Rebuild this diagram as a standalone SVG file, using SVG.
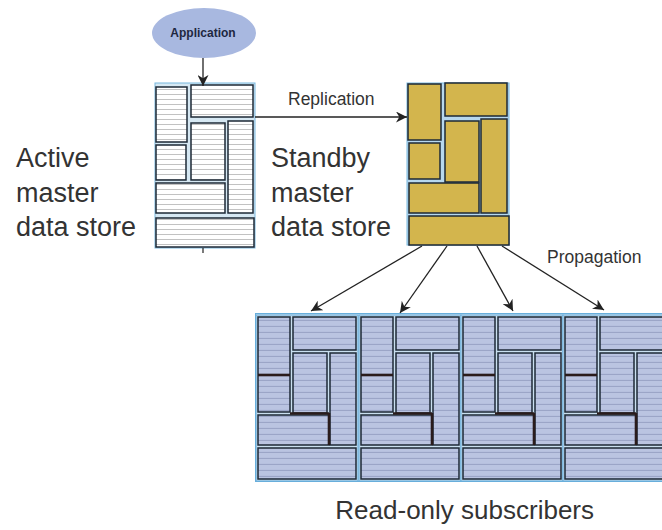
<svg xmlns="http://www.w3.org/2000/svg" xmlns:xlink="http://www.w3.org/1999/xlink" width="662" height="530" viewBox="0 0 662 530">
<style>
.lbl{font-family:"Liberation Sans",Arial,sans-serif;fill:#333;}
.big{font-size:27px;}
.mid{font-size:17.5px;}
.blk{stroke:#1d2836;stroke-width:1.5;}
.wb{fill:url(#ws);}
.gb{fill:#d3b54d;}
.bb{fill:url(#bs);}
.conn{stroke:#222;stroke-width:1.3;fill:none;marker-end:url(#ah);}
.thick{stroke:#2a1c1c;stroke-width:2.6;}
</style>
<defs>
<pattern id="ws" width="10" height="5" patternUnits="userSpaceOnUse">
<rect width="10" height="5" fill="#ffffff"/>
<line x1="0" y1="4.5" x2="10" y2="4.5" stroke="#b3b3b3" stroke-width="0.8"/>
</pattern>
<pattern id="bs" width="10" height="6" patternUnits="userSpaceOnUse">
<rect width="10" height="6" fill="#bac4e1"/>
<line x1="0" y1="5.4" x2="10" y2="5.4" stroke="#97a2c4" stroke-width="1"/>
</pattern>
<marker id="ah" viewBox="0 0 10 10" refX="10" refY="5" markerWidth="11" markerHeight="11" markerUnits="userSpaceOnUse" orient="auto">
<path d="M0,0 L10,5 L0,10 L3,5 z" fill="#222"/>
</marker>
<g id="subShape">
<rect x="-1" y="0" width="102" height="166" fill="#c9dfef" stroke="#68aedb" stroke-width="1"/>
<rect class="blk bb" x="1" y="2" width="32" height="95"/>
<rect class="blk bb" x="36" y="2" width="63" height="33"/>
<rect class="blk bb" x="36" y="38" width="34" height="60"/>
<rect class="blk bb" x="73" y="38" width="26" height="92"/>
<rect class="blk bb" x="1" y="100" width="71" height="30"/>
<rect class="blk bb" x="1" y="133" width="98" height="31"/>
<line class="thick" x1="1" y1="60" x2="33" y2="60"/>
<line class="thick" x1="33" y1="98.5" x2="72" y2="98.5"/>
<line class="thick" x1="72" y1="98" x2="72" y2="130"/>
</g>
</defs>
<rect width="662" height="530" fill="#ffffff"/>

<g id="application">
<ellipse cx="204" cy="33" rx="52" ry="25" fill="#a8b8e0"/>
<text x="203" y="37" text-anchor="middle" style="font-family:'Liberation Sans',Arial,sans-serif;font-size:12px;font-weight:bold;fill:#1e2740;">Application</text>
</g>

<g id="active-master">
<rect x="155" y="83" width="100" height="165" fill="#d6e8f3" stroke="#78b7de" stroke-width="1"/>
<rect class="blk wb" x="156" y="87" width="31" height="55"/>
<rect class="blk wb" x="191" y="85" width="62" height="32"/>
<rect class="blk wb" x="156" y="145" width="30" height="35"/>
<rect class="blk wb" x="191" y="123" width="34" height="57"/>
<rect class="blk wb" x="228" y="121" width="25" height="92"/>
<rect class="blk wb" x="156" y="183" width="69" height="30"/>
<rect class="blk wb" x="156" y="218" width="98" height="29"/>
<text class="lbl big" x="16" y="167">Active</text>
<text class="lbl big" x="16" y="202">master</text>
<text class="lbl big" x="16" y="236">data store</text>
</g>

<g id="standby-master">
<rect x="407" y="83" width="102" height="162" fill="#b7d8ee" stroke="#78b7de" stroke-width="1"/>
<rect class="blk gb" x="408" y="84" width="33" height="56"/>
<rect class="blk gb" x="445" y="83" width="62" height="33"/>
<rect class="blk gb" x="409" y="143" width="31" height="36"/>
<rect class="blk gb" x="445" y="121" width="34" height="61"/>
<rect class="blk gb" x="481" y="119" width="26" height="94"/>
<rect class="blk gb" x="409" y="183" width="70" height="30"/>
<rect class="blk gb" x="409" y="216" width="100" height="29"/>
<text class="lbl big" x="271" y="167">Standby</text>
<text class="lbl big" x="271" y="202">master</text>
<text class="lbl big" x="271" y="236">data store</text>
</g>

<g id="subscribers">
<rect x="255.5" y="313.5" width="410" height="168" fill="#c9dfef" stroke="#68aedb" stroke-width="1"/>
<g id="sub1"><use xlink:href="#subShape" x="257" y="315"/></g>
<g id="sub2"><use xlink:href="#subShape" x="360" y="315"/></g>
<g id="sub3"><use xlink:href="#subShape" x="462" y="315"/></g>
<g id="sub4"><use xlink:href="#subShape" x="564" y="315"/></g>
<text class="lbl big" x="594" y="519" text-anchor="end" style="font-size:26px;">Read-only subscribers</text>
</g>

<g id="connectors">
<path class="conn" d="M203,58 L203,86"/>
<path class="conn" d="M255,117 L407,117"/>
<line x1="203" y1="248" x2="203" y2="253" stroke="#222" stroke-width="1.2"/>
<path class="conn" d="M422,246 L311,311"/>
<path class="conn" d="M447,246 L400,313"/>
<path class="conn" d="M477,246 L513,311"/>
<path class="conn" d="M502,246 L604,310"/>
<text class="lbl mid" x="288" y="105">Replication</text>
<text class="lbl mid" x="547" y="263">Propagation</text>
</g>
</svg>
